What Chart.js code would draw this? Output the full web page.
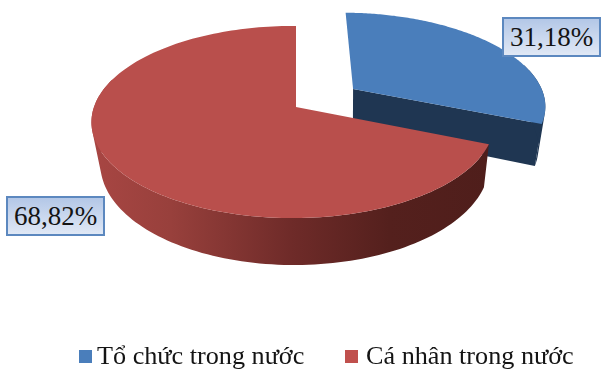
<!DOCTYPE html>
<html lang="vi">
<head>
<meta charset="utf-8">
<title>Cơ cấu</title>
<script src="https://cdn.jsdelivr.net/npm/chart.js@4/dist/chart.umd.min.js"></script>
<style>
  html, body { margin: 0; padding: 0; background: #fff; }
  #wrap { position: relative; width: 602px; height: 369px; overflow: hidden; font-family: "Liberation Serif", serif; color: #141414; }
  canvas { position: absolute; left: 0; top: 0; }
  .value-box {
    position: absolute; box-sizing: border-box; width: 99px; height: 40px;
    border: 2px solid #5c88bf; font-size: 27px; line-height: 36px; text-align: center;
    background: linear-gradient(#b3c7e7, #e0e8f5);
  }
  .legend-swatch { position: absolute; top: 350px; width: 13px; height: 13px; }
  .legend-text { position: absolute; top: 342px; font-size: 26.2px; line-height: 28px; white-space: nowrap; }
</style>
</head>
<body>
<div id="wrap">
  <canvas id="pie" width="602" height="369"></canvas>
</div>
<script>
const categories = ['Tổ chức trong nước', 'Cá nhân trong nước'];
const shares = [31.18, 68.82];
const topColors = ['#4a7ebb', '#b94f4c'];
const legendSwatches = ['#4a7ebb', '#c0504d'];

// tilted view of the disc
const view = { cx: 296, cy: 107, rx: 199, ry: 93.7, perspV: 0.156, perspU: 0.015, vanishX: 347 };

function project(u, v) {
  const s = 1 / (1 - view.perspV * v + view.perspU * u);
  return { x: view.cx + view.rx * u * s, y: view.cy + view.ry * v * s };
}

// same point on the underside of the slab
function drop(p) {
  return {
    x: p.x + (view.vanishX - p.x) * 0.035,
    y: p.y + 47 - 0.053 * (218 - p.y)
  };
}

function addPolygon(ctx, pts) {
  pts.forEach((p, i) => (i ? ctx.lineTo(p.x, p.y) : ctx.moveTo(p.x, p.y)));
  ctx.closePath();
}

function fillPath(ctx, pts) {
  ctx.beginPath();
  addPolygon(ctx, pts);
  ctx.fill();
}

function sliceOutline(arc) {
  const { startAngle, endAngle, outerRadius } = arc.getProps(['startAngle', 'endAngle', 'outerRadius']);
  const mid = (startAngle + endAngle) / 2;
  const shift = arc.options.offset / outerRadius;
  const ou = shift * Math.cos(mid);
  const ov = shift * Math.sin(mid);
  const rim = [];
  const steps = 160;
  for (let i = 0; i <= steps; i++) {
    const a = startAngle + (endAngle - startAngle) * i / steps;
    rim.push({ ...project(ou + Math.cos(a), ov + Math.sin(a)), front: Math.sin(a) > -0.3 });
  }
  return { apex: project(ou, ov), rim };
}

function signedArea(q) {
  return q.reduce((sum, p, i) => {
    const n = q[(i + 1) % q.length];
    return sum + p.x * n.y - n.x * p.y;
  }, 0);
}

// outer wall: one quad per rim step, all in one path so no seams show.
// quads are wound the same way, otherwise they cancel at the silhouette
function fillWall(ctx, rim) {
  ctx.beginPath();
  for (let i = 0; i < rim.length - 1; i++) {
    if (!rim[i].front || !rim[i + 1].front) continue;
    const quad = [rim[i], rim[i + 1], drop(rim[i + 1]), drop(rim[i])];
    addPolygon(ctx, signedArea(quad) < 0 ? quad.reverse() : quad);
  }
  ctx.fill();
}

const slabPlugin = {
  id: 'slab',
  beforeDatasetsDraw(chart) {
    const ctx = chart.ctx;
    const arcs = chart.getDatasetMeta(0).data;
    const blue = sliceOutline(arcs[0]);
    const red = sliceOutline(arcs[1]);

    // blue slice: walls, then lid
    ctx.fillStyle = '#1f3652';
    const tip = blue.rim[blue.rim.length - 1];
    fillPath(ctx, [blue.apex, tip, drop(tip), drop(blue.apex)]);
    fillWall(ctx, blue.rim);
    ctx.fillStyle = topColors[0];
    fillPath(ctx, [blue.apex, ...blue.rim]);

    // red slice: curved wall darkens towards the right
    const shade = ctx.createLinearGradient(91, 0, 489, 0);
    shade.addColorStop(0, '#a84643');
    shade.addColorStop(0.2, '#98403c');
    shade.addColorStop(0.5, '#6f2b29');
    shade.addColorStop(0.75, '#54201d');
    shade.addColorStop(1, '#4f1e1b');
    ctx.fillStyle = shade;
    fillWall(ctx, red.rim);
    ctx.fillStyle = topColors[1];
    fillPath(ctx, [red.apex, ...red.rim]);

    return false;
  }
};

new Chart(document.getElementById('pie'), {
  type: 'pie',
  data: {
    labels: categories,
    datasets: [{
      data: shares,
      backgroundColor: topColors,
      borderWidth: 0,
      offset: [56, 0]
    }]
  },
  options: {
    responsive: false,
    animation: false,
    plugins: {
      legend: { display: false },
      tooltip: { enabled: false }
    }
  },
  plugins: [slabPlugin]
});

// value boxes and legend are plain text on top of the canvas
const wrap = document.getElementById('wrap');
const formatShare = v => v.toFixed(2).replace('.', ',') + '%';

[[502, 17], [6, 196]].forEach(([left, top], i) => {
  const box = document.createElement('div');
  box.className = 'value-box';
  box.style.left = left + 'px';
  box.style.top = top + 'px';
  box.textContent = formatShare(shares[i]);
  wrap.appendChild(box);
});

[[79, 97], [345, 366]].forEach(([swatchX, textX], i) => {
  const swatch = document.createElement('div');
  swatch.className = 'legend-swatch';
  swatch.style.left = swatchX + 'px';
  swatch.style.background = legendSwatches[i];
  wrap.appendChild(swatch);
  const text = document.createElement('div');
  text.className = 'legend-text';
  text.style.left = textX + 'px';
  text.textContent = categories[i];
  wrap.appendChild(text);
});
</script>
</body>
</html>
